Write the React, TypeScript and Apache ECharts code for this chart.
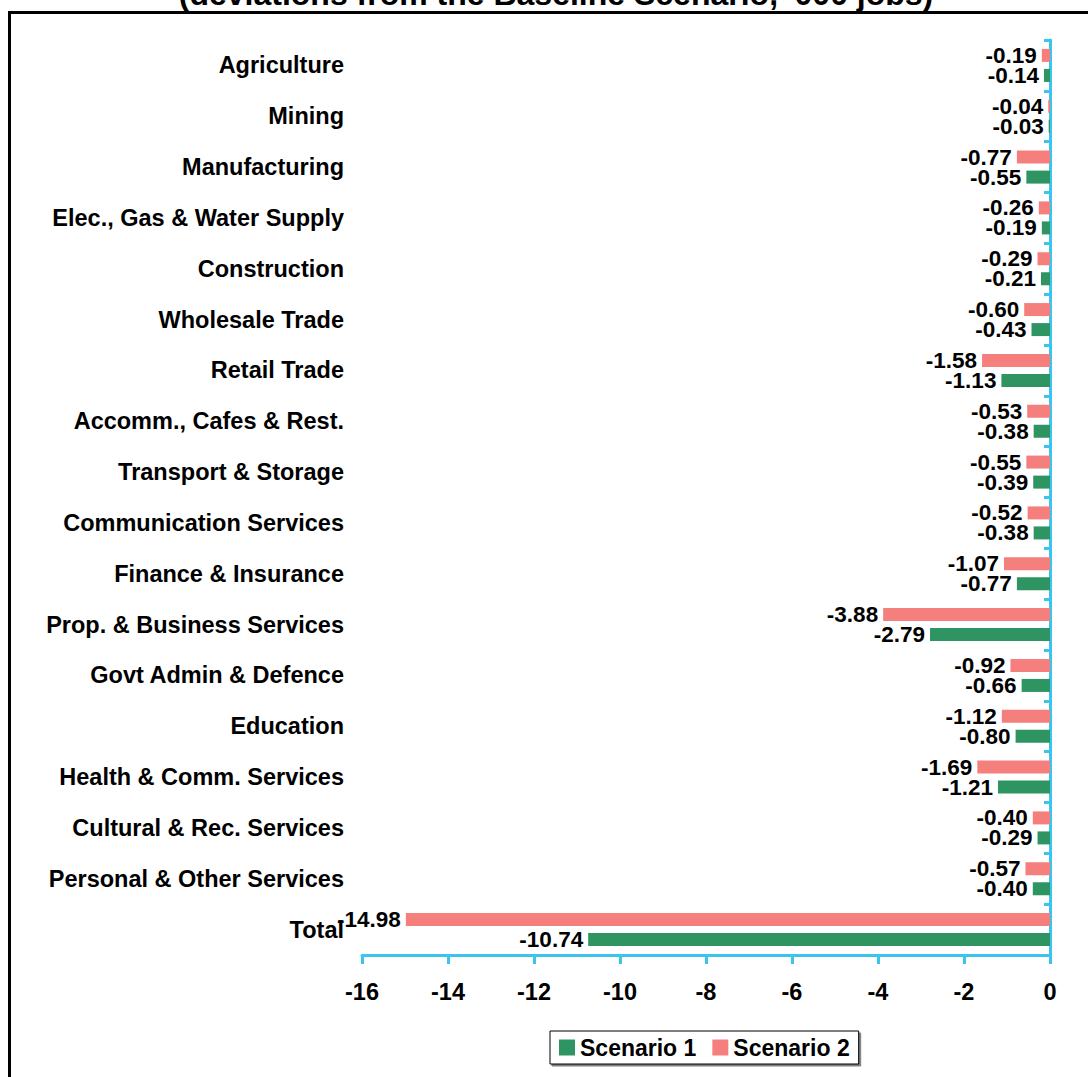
import React, { useEffect, useRef } from "react";
import * as echarts from "echarts";

const categories = [
  "Agriculture",
  "Mining",
  "Manufacturing",
  "Elec., Gas & Water Supply",
  "Construction",
  "Wholesale Trade",
  "Retail Trade",
  "Accomm., Cafes & Rest.",
  "Transport & Storage",
  "Communication Services",
  "Finance & Insurance",
  "Prop. & Business Services",
  "Govt Admin & Defence",
  "Education",
  "Health & Comm. Services",
  "Cultural & Rec. Services",
  "Personal & Other Services",
  "Total",
];

const scenario1 = [
  -0.14, -0.03, -0.55, -0.19, -0.21, -0.43, -1.13, -0.38, -0.39, -0.38, -0.77,
  -2.79, -0.66, -0.8, -1.21, -0.29, -0.4, -10.74,
];

const scenario2 = [
  -0.19, -0.04, -0.77, -0.26, -0.29, -0.6, -1.58, -0.53, -0.55, -0.52, -1.07,
  -3.88, -0.92, -1.12, -1.69, -0.4, -0.57, -14.98,
];

const titleText = "(deviations from the Baseline Scenario, '000 jobs)";

const FONT = "'Liberation Sans', Arial, sans-serif";
const AXIS_BLUE = "#3BC4EF";
const GREEN = "#2E9462";
const PINK = "#F47F7D";

export default function App() {
  const ref = useRef<HTMLDivElement>(null);

  useEffect(() => {
    document.body.style.margin = "0";
    const chart = echarts.init(ref.current!, undefined, { renderer: "svg" });
    const labelStyle = {
      show: true,
      position: "left" as const,
      distance: 5,
      color: "#000",
      fontFamily: FONT,
      fontWeight: "bold" as const,
      fontSize: 22.5,
      lineHeight: 20,
      formatter: (p: any) => Number(p.value).toFixed(2),
    };
    chart.setOption({
      animation: false,
      backgroundColor: "#fff",
      textStyle: { fontFamily: FONT },
      graphic: [
        {
          type: "rect",
          shape: { x: 9.5, y: 12.5, width: 1200, height: 1200 },
          style: { fill: "none", stroke: "#000", lineWidth: 3 },
          silent: true,
        },
        {
          type: "text",
          x: 556,
          y: 10,
          style: {
            text: titleText,
            fontFamily: FONT,
            fontWeight: "bold",
            fontSize: 32,
            fill: "#000",
            textAlign: "center",
            textVerticalAlign: "bottom",
          },
        },
      ],
      grid: { left: 362, right: 38, top: 40, bottom: 122, containLabel: false },
      legend: {
        data: ["Scenario 1", "Scenario 2"],
        left: 550,
        top: 1031,
        orient: "horizontal",
        icon: "rect",
        itemWidth: 16,
        itemHeight: 16,
        itemGap: 16,
        padding: [5, 9, 5, 9],
        borderColor: "#000",
        borderWidth: 1,
        shadowColor: "rgba(0,0,0,0.5)",
        shadowOffsetX: 2,
        shadowOffsetY: 2,
        shadowBlur: 0,
        backgroundColor: "#fff",
        textStyle: {
          fontFamily: FONT,
          fontWeight: "bold",
          fontSize: 23,
          color: "#000",
        },
      },
      xAxis: {
        type: "value",
        min: -16,
        max: 0,
        interval: 2,
        position: "bottom",
        axisLine: { show: true, onZero: false, lineStyle: { color: AXIS_BLUE, width: 3 } },
        axisTick: { show: true, length: 9, lineStyle: { color: AXIS_BLUE, width: 3 } },
        splitLine: { show: false },
        axisLabel: {
          color: "#000",
          fontFamily: FONT,
          fontWeight: "bold",
          fontSize: 23.5,
          margin: 25,
        },
      },
      yAxis: [
        {
          type: "category",
          data: categories,
          inverse: true,
          position: "left",
          axisLine: { show: false, onZero: false },
          axisTick: { show: false },
          axisLabel: {
            color: "#000",
            fontFamily: FONT,
            fontWeight: "bold",
            fontSize: 23.5,
            margin: 18,
          },
        },
        {
          type: "category",
          data: categories,
          inverse: true,
          position: "right",
          axisLine: { show: true, onZero: false, lineStyle: { color: AXIS_BLUE, width: 3 } },
          axisTick: { show: true, inside: true, length: 6, lineStyle: { color: AXIS_BLUE, width: 3 } },
          axisLabel: { show: false },
        },
      ],
      series: [
        {
          name: "Scenario 2",
          type: "bar",
          yAxisIndex: 0,
          data: scenario2,
          barWidth: 13,
          barGap: "54%",
          itemStyle: { color: PINK },
          label: labelStyle,
        },
        {
          name: "Scenario 1",
          type: "bar",
          yAxisIndex: 0,
          data: scenario1,
          barWidth: 13,
          barGap: "54%",
          itemStyle: { color: GREEN },
          label: labelStyle,
        },
      ],
    });
    return () => chart.dispose();
  }, []);

  return (
    <div
      ref={ref}
      style={{ position: "fixed", left: 0, top: 0, width: 1088, height: 1077 }}
    />
  );
}
